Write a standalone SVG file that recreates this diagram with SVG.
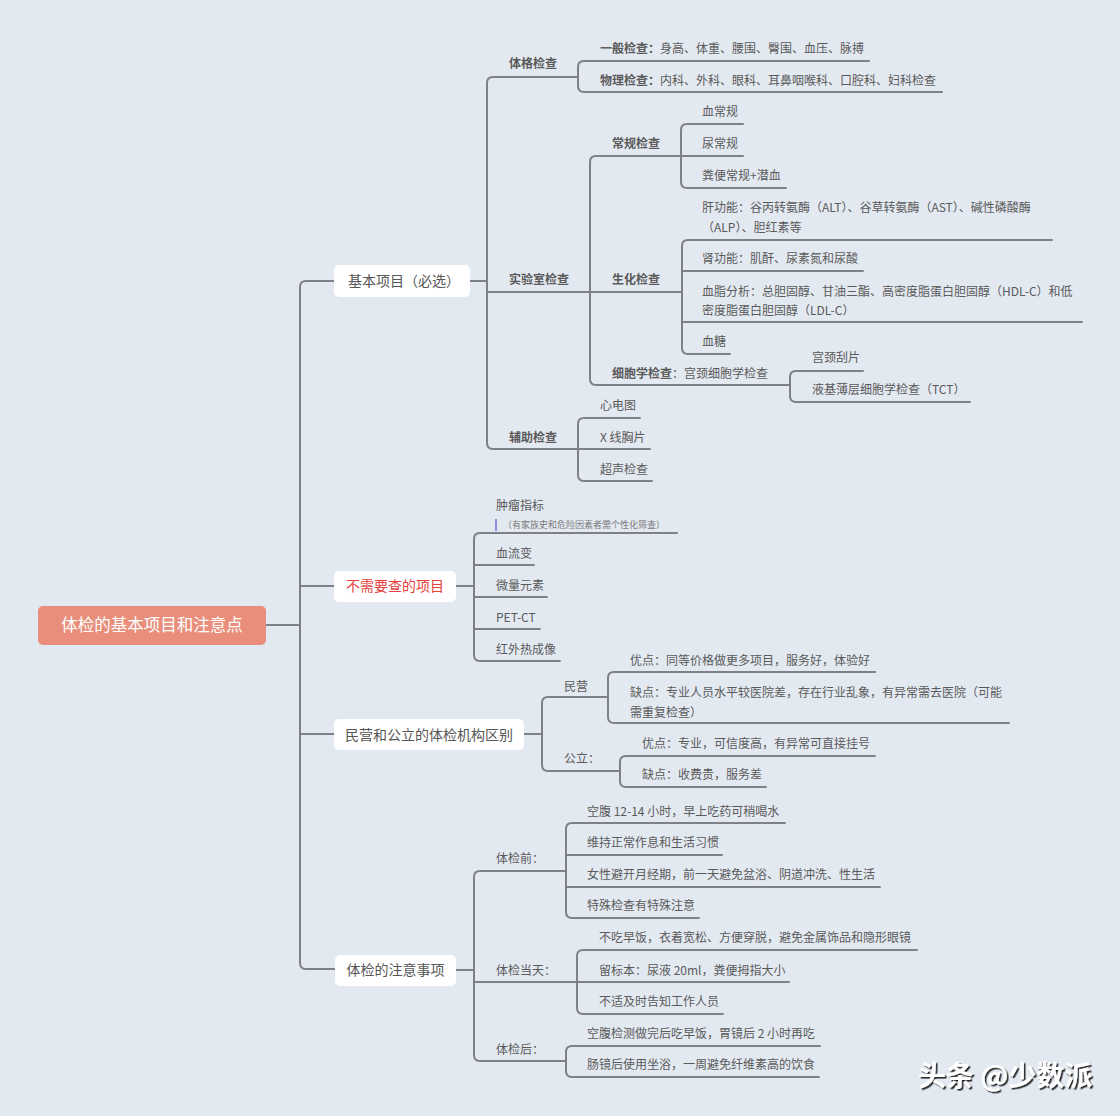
<svg xmlns="http://www.w3.org/2000/svg" width="1120" height="1116" viewBox="0 0 1120 1116">
<defs>
<style>
.ln{fill:none;stroke:#808089;stroke-width:2;stroke-linecap:round;stroke-linejoin:round}
.t{font-family:"Noto Sans CJK SC","Liberation Sans",sans-serif;font-size:12px;fill:#5a5a5a}
.b{font-weight:bold}
.nt{font-size:14px;fill:#555}
.box{fill:#ffffff}
.note{font-size:9px;fill:#7a7a7a}
</style>
<filter id="sh" x="-10%" y="-30%" width="130%" height="160%">
<feDropShadow dx="1.6" dy="1.6" stdDeviation="0.4" flood-color="#1a1a1a" flood-opacity="0.95"/>
</filter>
</defs>
<rect width="1120" height="1116" fill="#E3E9F1"/>

<g id="connectors" class="ln">
<path d="M266,625 H300"/>
<path d="M334,281 H306 Q300,281 300,287 V963 Q300,969 306,969 H335"/>
<path d="M300,586 H334 M300,734 H334"/>
<path d="M470,281 H487"/>
<path d="M578,77 H493 Q487,77 487,83 V443 Q487,449 493,449 H578"/>
<path d="M487,292 H590"/>
<path d="M869,61 H584 Q578,61 578,67 V86 Q578,92 584,92 H942"/>
<path d="M681,156 H596 Q590,156 590,162 V379 Q590,385 596,385 H790"/>
<path d="M590,292 H682"/>
<path d="M743,124 H687 Q681,124 681,130 V182 Q681,188 687,188 H786"/>
<path d="M681,156 H743"/>
<path d="M1052,240 H688 Q682,240 682,246 V348 Q682,354 688,354 H730"/>
<path d="M682,271 H863 M682,322 H1082"/>
<path d="M863,371 H796 Q790,371 790,377 V396 Q790,402 796,402 H970"/>
<path d="M640,418 H584 Q578,418 578,424 V475 Q578,481 584,481 H652"/>
<path d="M578,449 H650"/>
<path d="M456,586 H474"/>
<path d="M677,533 H480 Q474,533 474,539 V655 Q474,661 480,661 H560"/>
<path d="M474,565 H534 M474,597 H547 M474,629 H540"/>
<path d="M524,734 H542"/>
<path d="M608,697 H548 Q542,697 542,703 V765 Q542,771 548,771 H620"/>
<path d="M875,672 H614 Q608,672 608,678 V717 Q608,723 614,723 H1009"/>
<path d="M875,756 H626 Q620,756 620,762 V781 Q620,787 626,787 H766"/>
<path d="M456,970 H474"/>
<path d="M566,871 H480 Q474,871 474,877 V1055 Q474,1061 480,1061 H566"/>
<path d="M474,982 H577"/>
<path d="M785,823 H572 Q566,823 566,829 V912 Q566,918 572,918 H699"/>
<path d="M566,855 H722 M566,887 H880"/>
<path d="M917,950 H583 Q577,950 577,956 V1008 Q577,1014 583,1014 H723"/>
<path d="M577,982 H789"/>
<path d="M820,1046 H572 Q566,1046 566,1052 V1071 Q566,1077 572,1077 H819"/>
</g>

<g id="root">
<rect x="38" y="606" width="228" height="39" rx="5" fill="#E98E7A"/>
<text class="t" x="152" y="631" text-anchor="middle" style="font-size:16.5px;fill:#ffffff">体检的基本项目和注意点</text>
</g>

<g id="n-basic">
<rect class="box" x="334" y="265" width="136" height="32" rx="5"/>
<text class="t nt" x="348" y="286">基本项目（必选）</text>
</g>
<g id="n-tige"><text class="t b" x="509" y="68">体格检查</text></g>
<g id="n-yiban"><text class="t" x="600" y="53"><tspan class="b">一般检查：</tspan>身高、体重、腰围、臀围、血压、脉搏</text></g>
<g id="n-wuli"><text class="t" x="600" y="85"><tspan class="b">物理检查：</tspan>内科、外科、眼科、耳鼻咽喉科、口腔科、妇科检查</text></g>
<g id="n-lab"><text class="t b" x="509" y="284">实验室检查</text></g>
<g id="n-changgui"><text class="t b" x="612" y="148">常规检查</text></g>
<g id="n-xcg"><text class="t" x="702" y="116">血常规</text></g>
<g id="n-ncg"><text class="t" x="702" y="148">尿常规</text></g>
<g id="n-fb"><text class="t" x="702" y="180">粪便常规+潜血</text></g>
<g id="n-shenghua"><text class="t b" x="612" y="284">生化检查</text></g>
<g id="n-gan"><text class="t" x="702" y="211.5">肝功能：谷丙转氨酶（ALT）、谷草转氨酶（AST）、碱性磷酸酶</text><text class="t" x="702" y="231.5">（ALP）、胆红素等</text></g>
<g id="n-shen"><text class="t" x="702" y="263">肾功能：肌酐、尿素氮和尿酸</text></g>
<g id="n-xuezhi"><text class="t" x="702" y="295.5">血脂分析：总胆固醇、甘油三酯、高密度脂蛋白胆固醇（HDL-C）和低</text><text class="t" x="702" y="315">密度脂蛋白胆固醇（LDL-C）</text></g>
<g id="n-xuetang"><text class="t" x="702" y="346">血糖</text></g>
<g id="n-xibao"><text class="t" x="612" y="377.5"><tspan class="b">细胞学检查</tspan>：宫颈细胞学检查</text></g>
<g id="n-gjgp"><text class="t" x="812" y="362">宫颈刮片</text></g>
<g id="n-tct"><text class="t" x="812" y="394">液基薄层细胞学检查（TCT）</text></g>
<g id="n-fuzhu"><text class="t b" x="509" y="441.5">辅助检查</text></g>
<g id="n-xdt"><text class="t" x="600" y="410">心电图</text></g>
<g id="n-xray"><text class="t" x="600" y="441.5">X 线胸片</text></g>
<g id="n-cs"><text class="t" x="600" y="473.5">超声检查</text></g>

<g id="n-noneed">
<rect class="box" x="334" y="571" width="122" height="31" rx="5"/>
<text class="t nt" x="395" y="591" text-anchor="middle" style="fill:#E5403A">不需要查的项目</text>
</g>
<g id="n-zl">
<text class="t" x="496" y="510">肿瘤指标</text>
<rect x="495" y="519" width="2" height="12" fill="#8A8FE0"/>
<text class="t note" x="503" y="528">（有家族史和危险因素者需个性化筛查）</text>
</g>
<g id="n-xlb"><text class="t" x="496" y="557.5">血流变</text></g>
<g id="n-wl"><text class="t" x="496" y="590">微量元素</text></g>
<g id="n-pet"><text class="t" x="496" y="621.5">PET-CT</text></g>
<g id="n-hw"><text class="t" x="496" y="653.5">红外热成像</text></g>

<g id="n-diff">
<rect class="box" x="334" y="719" width="190" height="31" rx="5"/>
<text class="t nt" x="429" y="739.5" text-anchor="middle">民营和公立的体检机构区别</text>
</g>
<g id="n-minying"><text class="t" x="564" y="690.5">民营</text></g>
<g id="n-my-y"><text class="t" x="630" y="664.5">优点：同等价格做更多项目，服务好，体验好</text></g>
<g id="n-my-q"><text class="t" x="630" y="696.5">缺点：专业人员水平较医院差，存在行业乱象，有异常需去医院（可能</text><text class="t" x="630" y="716.5">需重复检查）</text></g>
<g id="n-gongli"><text class="t" x="564" y="762.5">公立：</text></g>
<g id="n-gl-y"><text class="t" x="642" y="747.5">优点：专业，可信度高，有异常可直接挂号</text></g>
<g id="n-gl-q"><text class="t" x="642" y="778.5">缺点：收费贵，服务差</text></g>

<g id="n-notice">
<rect class="box" x="335" y="955" width="121" height="31" rx="5"/>
<text class="t nt" x="395.5" y="975" text-anchor="middle">体检的注意事项</text>
</g>
<g id="n-before"><text class="t" x="496" y="863">体检前：</text></g>
<g id="n-b1"><text class="t" x="587" y="815.5">空腹 12-14 小时，早上吃药可稍喝水</text></g>
<g id="n-b2"><text class="t" x="587" y="847">维持正常作息和生活习惯</text></g>
<g id="n-b3"><text class="t" x="587" y="878.5">女性避开月经期，前一天避免盆浴、阴道冲洗、性生活</text></g>
<g id="n-b4"><text class="t" x="587" y="910">特殊检查有特殊注意</text></g>
<g id="n-day"><text class="t" x="496" y="974.5">体检当天：</text></g>
<g id="n-d1"><text class="t" x="599" y="941.5">不吃早饭，衣着宽松、方便穿脱，避免金属饰品和隐形眼镜</text></g>
<g id="n-d2"><text class="t" x="599" y="974.5">留标本：尿液 20ml，粪便拇指大小</text></g>
<g id="n-d3"><text class="t" x="599" y="1006">不适及时告知工作人员</text></g>
<g id="n-after"><text class="t" x="496" y="1053.5">体检后：</text></g>
<g id="n-a1"><text class="t" x="587" y="1037.5">空腹检测做完后吃早饭，胃镜后 2 小时再吃</text></g>
<g id="n-a2"><text class="t" x="587" y="1068.5">肠镜后使用坐浴，一周避免纤维素高的饮食</text></g>

<text x="918" y="1086" filter="url(#sh)" style="font-family:'Noto Sans CJK SC','Liberation Sans',sans-serif;font-size:28px;font-weight:bold;fill:#ffffff">头条 @少数派</text>
</svg>
